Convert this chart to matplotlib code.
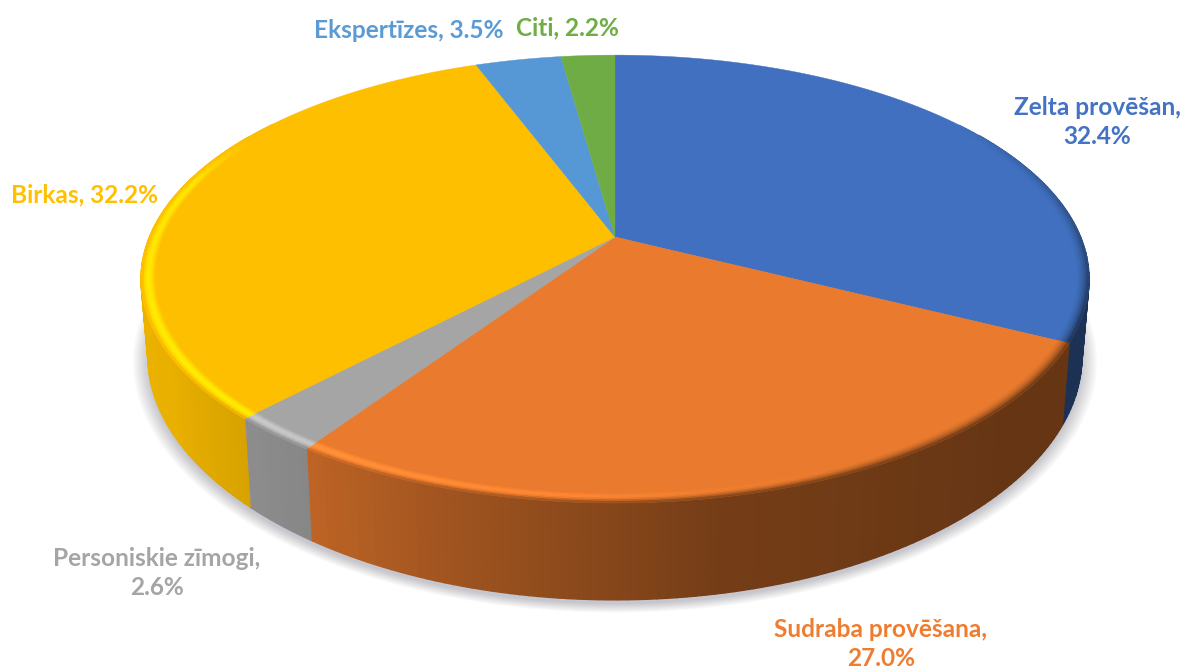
import numpy as np
import matplotlib
matplotlib.use("Agg")
import matplotlib.pyplot as plt
from matplotlib.patches import Polygon
from matplotlib.colors import to_rgb

# DATA
categories = ["Zelta provēšan", "Sudraba provēšana", "Personiskie zīmogi", "Birkas", "Ekspertīzes", "Citi"]
values = [32.4, 27.0, 2.6, 32.2, 3.5, 2.2]
colors = ["#4070BF", "#EA7B2E", "#A5A5A5", "#FDBF00", "#5697D6", "#6FAC45"]
text_colors = ["#4472C4", "#ED7D31", "#A5A5A5", "#FFC000", "#5B9BD5", "#70AD47"]
label_texts = ["Zelta provēšan,\n32.4%", "Sudraba provēšana,\n27.0%", "Personiskie zīmogi,\n2.6%",
               "Birkas, 32.2%", "Ekspertīzes, 3.5%", "Citi, 2.2%"]
label_pos = [(1097, 122), (881, 644), (157, 573), (85, 195), (409, 31), (568, 28)]

# pie geometry in pixels, perspective view
CX, CY = 615, 237
RX, RY, K = 465.6, 216, 0.1875
RIM = 0.972


def top_xy(t, r=1.0):
    # t in degrees, clockwise from 12 o'clock
    a = np.radians(t)
    x, y = r * np.sin(a), r * np.cos(a)
    s = 1 / (1 + K * y)
    return CX + RX * x * s, CY - RY * y * s


def bottom_xy(t):
    x, y = top_xy(t)
    p = (1 - np.cos(np.radians(t))) / 2
    return CX + (x - CX) * 0.985, y + 73 + 24 * p ** 3


def side_shade(t):
    return np.interp(t, [90, 130, 170, 195, 215, 240, 290], [.45, .43, .50, .67, .82, .92, .95])


fig = plt.figure(figsize=(11.86, 6.69), dpi=100)
ax = fig.add_axes([0, 0, 1, 1])
ax.set_xlim(0, 1186)
ax.set_ylim(669, 0)
ax.axis("off")

# soft shadow under the pie
tt = np.linspace(60, 300, 241)
for i in range(14):
    bx, by = bottom_xy(tt)
    grow = 1.0 + 0.0025 * i
    px = CX + (bx - CX) * grow
    py = 330 + (by - 330) * grow + 4
    ax.add_patch(Polygon(np.c_[px, py], closed=True, fc="#30304A", ec="none", alpha=0.018, zorder=1))

# slice angles
shares = np.array(values) / sum(values) * 360
ends = np.cumsum(shares)
starts = ends - shares

# side wall, drawn as thin strips
for i in range(len(values)):
    base = np.array(to_rgb(colors[i]))
    steps = np.append(np.arange(starts[i], ends[i], 1.0), ends[i])
    for t0, t1 in zip(steps[:-1], steps[1:]):
        if t1 < 60 or t0 > 300:
            continue
        x0, y0 = top_xy(t0)
        x1, y1 = top_xy(t1)
        xb0, yb0 = bottom_xy(t0)
        xb1, yb1 = bottom_xy(t1)
        col = np.clip(base * side_shade((t0 + t1) / 2), 0, 1)
        ax.add_patch(Polygon([(x0, y0), (x1, y1), (xb1, yb1), (xb0, yb0)], closed=True,
                             fc=col, ec=col, lw=1.0, zorder=2))

# top faces
for i in range(len(values)):
    ts = np.linspace(starts[i], ends[i], 200)
    xs, ys = top_xy(ts)
    pts = np.r_[[(CX, CY)], np.c_[xs, ys]]
    ax.add_patch(Polygon(pts, closed=True, fc=colors[i], ec=colors[i], lw=0.3, zorder=3))

# rounded rim between top face and side
bands = 6
for i in range(len(values)):
    base = np.array(to_rgb(colors[i]))
    steps = np.append(np.arange(starts[i], ends[i], 1.0), ends[i])
    for t0, t1 in zip(steps[:-1], steps[1:]):
        tm = (t0 + t1) / 2
        if tm < 55 or tm > 305:
            continue
        hl = np.interp(tm, [150, 190, 225, 285, 300], [0, .2, .28, .22, 0])
        mix = np.interp(tm, [55, 110, 270, 305], [0, 1, 1, 0])
        side = base * side_shade(tm)
        for b in range(bands):
            u = (b + 0.5) / bands
            r0 = RIM + (1 - RIM) * b / bands
            r1 = RIM + (1 - RIM) * (b + 1) / bands
            col = base + (side - base) * mix * u ** 2
            col = np.clip(col * (1 + hl * np.sin(np.pi * u)), 0, 1)
            ax0, ay0 = top_xy(t0, r0)
            ax1, ay1 = top_xy(t1, r0)
            bx0, by0 = top_xy(t0, r1)
            bx1, by1 = top_xy(t1, r1)
            ax.add_patch(Polygon([(ax0, ay0), (ax1, ay1), (bx1, by1), (bx0, by0)], closed=True,
                                 fc=col, ec=col, lw=0.6, zorder=4))

# data labels
for txt, pos, col in zip(label_texts, label_pos, text_colors):
    ax.text(pos[0], pos[1], txt, color=col, fontsize=17.6, fontweight="bold", family="Lato",
            ha="center", va="center", linespacing=1.36, zorder=5)

fig.savefig("out.png", dpi=100)
